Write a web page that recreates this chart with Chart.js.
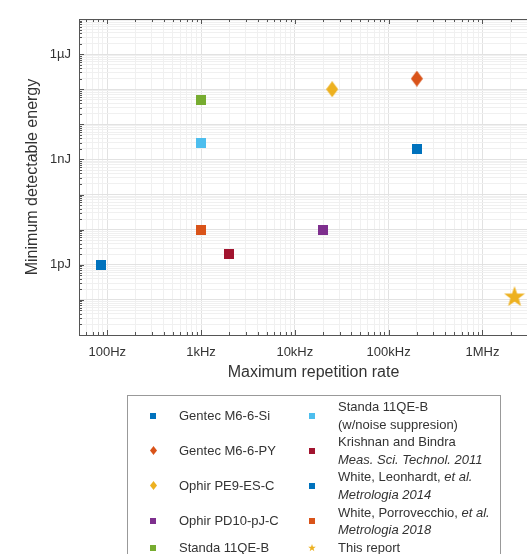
<!DOCTYPE html>
<html lang="en">
<head>
<meta charset="UTF-8">
<title>Minimum detectable energy vs repetition rate</title>
<script src="https://cdn.jsdelivr.net/npm/chart.js"></script>
<style>
  html, body { margin: 0; padding: 0; background: #fff; overflow: hidden; }
  body { width: 527px; height: 554px; position: relative; font-family: "Liberation Sans", Arial, sans-serif; }
  #wrap { position: absolute; left: 0; top: 0; width: 560px; height: 382px; }
  #legend {
    position: absolute; left: 127px; top: 395px; width: 372px; height: 180px;
    border: 1px solid #999; background: #fff; color: #333; font-size: 13px;
  }
  .item { position: absolute; display: flex; align-items: center; white-space: nowrap; }
  .item .mk { width: 26px; display: flex; justify-content: center; align-items: center; }
  .item .txt { margin-left: 13px; line-height: 17.6px; }
</style>
</head>
<body>
<div id="wrap"><canvas id="chart" width="560" height="382"></canvas></div>
<div id="legend"></div>

<script>
// series (order as in the legend)
const seriesNames = [
  'Gentec M6-6-Si',
  'Gentec M6-6-PY',
  'Ophir PE9-ES-C',
  'Ophir PD10-pJ-C',
  'Standa 11QE-B',
  'Standa 11QE-B<br>(w/noise suppresion)',
  'Krishnan and Bindra<br><i>Meas. Sci. Technol. 2011</i>',
  'White, Leonhardt, <i>et al.</i><br><i>Metrologia 2014</i>',
  'White, Porrovecchio, <i>et al.</i><br><i>Metrologia 2018</i>',
  'This report'
];
const seriesColors = ['#0072BD', '#D95319', '#EDB120', '#7E2F8E', '#77AC30',
                      '#4DBEEE', '#A2142F', '#0072BD', '#D95319', '#EDB120'];
const seriesMarkers = ['square', 'diamond', 'diamond', 'square', 'square',
                       'square', 'square', 'square', 'square', 'star'];

// values
const repRateHz  = [2e5, 2e5, 2.5e4, 2e4, 1e3, 1e3, 2e3, 85, 1e3, 2.2e6];
const minEnergyJ = [2e-9, 2e-7, 1e-7, 1e-11, 5e-8, 3e-9, 2e-12, 1e-12, 1e-11, 1.2e-13];

// axes
const xLimits = [50, 5e6];
const yLimits = [1e-14, 1e-5];
const xTickValues = [1e2, 1e3, 1e4, 1e5, 1e6];
const xTickLabels = ['100Hz', '1kHz', '10kHz', '100kHz', '1MHz'];
const yTickValues = [1e-12, 1e-9, 1e-6];
const yTickLabels = ['1pJ', '1nJ', '1\u00B5J'];

const axisColor = '#555';
const majorGrid = '#e2e2e2';
const minorGrid = '#f0f0f0';
const textColor = '#333';

function isDecade(v) {
  const l = Math.log10(v);
  return Math.abs(l - Math.round(l)) < 1e-6;
}

// all 1..9 x 10^n values inside the limits (for grid lines)
function logTicks(lim) {
  const out = [];
  for (let e = Math.floor(Math.log10(lim[0])); e <= Math.ceil(Math.log10(lim[1])); e++) {
    for (let m = 1; m <= 9; m++) {
      const v = m * Math.pow(10, e);
      if (v >= lim[0] * (1 - 1e-9) && v <= lim[1] * (1 + 1e-9)) out.push({ value: v });
    }
  }
  return out;
}

function labelFor(v, vals, labels) {
  for (let i = 0; i < vals.length; i++) {
    if (Math.abs(v / vals[i] - 1) < 1e-6) return labels[i];
  }
  return '';
}

function markerCanvas(shape, color, w, h) {
  const c = document.createElement('canvas');
  c.width = w;
  c.height = h;
  const g = c.getContext('2d');
  g.fillStyle = color;
  g.beginPath();
  if (shape === 'square') {
    g.rect(0, 0, w, h);
  } else if (shape === 'diamond') {
    g.moveTo(w / 2, 0);
    g.lineTo(w, h / 2);
    g.lineTo(w / 2, h);
    g.lineTo(0, h / 2);
    g.closePath();
  } else {
    const R = w / 2, r = R * 0.4, cx = w / 2, cy = h / 2;
    for (let k = 0; k < 10; k++) {
      const a = -Math.PI / 2 + k * Math.PI / 5;
      const rr = k % 2 ? r : R;
      const px = cx + rr * Math.cos(a), py = cy + rr * Math.sin(a);
      if (k === 0) g.moveTo(px, py); else g.lineTo(px, py);
    }
    g.closePath();
  }
  g.fill();
  return c;
}

function plotMarker(i) {
  const s = seriesMarkers[i];
  if (s === 'square') return markerCanvas(s, seriesColors[i], 10, 10);
  if (s === 'diamond') return markerCanvas(s, seriesColors[i], 12, 16);
  return markerCanvas(s, seriesColors[i], 22, 22);
}

function legendMarker(i) {
  const s = seriesMarkers[i];
  if (s === 'square') return markerCanvas(s, seriesColors[i], 6, 6);
  if (s === 'diamond') return markerCanvas(s, seriesColors[i], 7, 9);
  return markerCanvas(s, seriesColors[i], 8, 8);
}

const datasets = seriesNames.map((name, i) => ({
  label: name,
  data: [{ x: repRateHz[i], y: minEnergyJ[i] }],
  pointStyle: plotMarker(i),
  backgroundColor: seriesColors[i],
  borderColor: seriesColors[i]
}));

// box on the top/right and inward tick marks, like the original
const boxTicks = {
  id: 'boxTicks',
  afterDraw(chart) {
    const { ctx, chartArea: a, scales } = chart;
    ctx.save();
    ctx.strokeStyle = axisColor;
    ctx.lineWidth = 1;
    ctx.beginPath();
    ctx.moveTo(a.left, Math.round(a.top) + 0.5);
    ctx.lineTo(a.right, Math.round(a.top) + 0.5);
    ctx.moveTo(Math.round(a.right) - 0.5, a.top);
    ctx.lineTo(Math.round(a.right) - 0.5, a.bottom);
    scales.x.ticks.forEach(t => {
      const px = Math.round(scales.x.getPixelForValue(t.value)) + 0.5;
      const len = isDecade(t.value) ? 5 : 3;
      ctx.moveTo(px, a.bottom);
      ctx.lineTo(px, a.bottom - len);
      ctx.moveTo(px, a.top);
      ctx.lineTo(px, a.top + len);
    });
    scales.y.ticks.forEach(t => {
      const py = Math.round(scales.y.getPixelForValue(t.value)) + 0.5;
      const len = isDecade(t.value) ? 5 : 3;
      ctx.moveTo(a.left, py);
      ctx.lineTo(a.left + len, py);
      ctx.moveTo(a.right, py);
      ctx.lineTo(a.right - len, py);
    });
    ctx.stroke();
    ctx.restore();
  }
};

Chart.defaults.font.family = '"Liberation Sans", Arial, sans-serif';
Chart.defaults.color = textColor;

new Chart(document.getElementById('chart'), {
  type: 'scatter',
  data: { datasets: datasets },
  options: {
    responsive: false,
    animation: false,
    events: [],
    layout: { padding: { top: 19, right: 12, left: 0, bottom: 0 } },
    plugins: { legend: { display: false }, tooltip: { enabled: false } },
    scales: {
      x: {
        type: 'logarithmic',
        min: xLimits[0],
        max: xLimits[1],
        afterBuildTicks: scale => { scale.ticks = logTicks(xLimits); },
        afterFit: scale => { scale.height = 47; },
        grid: {
          drawTicks: false,
          color: c => (c.tick && isDecade(c.tick.value)) ? majorGrid : minorGrid
        },
        border: { display: true, color: axisColor, width: 1 },
        ticks: {
          autoSkip: false,
          maxRotation: 0,
          padding: 10,
          font: { size: 13 },
          callback: v => labelFor(v, xTickValues, xTickLabels)
        },
        title: {
          display: true,
          text: 'Maximum repetition rate',
          font: { size: 16 },
          padding: { top: 0, bottom: 0 }
        }
      },
      y: {
        type: 'logarithmic',
        min: yLimits[0],
        max: yLimits[1],
        afterBuildTicks: scale => { scale.ticks = logTicks(yLimits); },
        afterFit: scale => { scale.width = 79; },
        grid: {
          drawTicks: false,
          color: c => (c.tick && isDecade(c.tick.value)) ? majorGrid : minorGrid
        },
        border: { display: true, color: axisColor, width: 1 },
        ticks: {
          autoSkip: false,
          padding: 8,
          font: { size: 13 },
          callback: v => labelFor(v, yTickValues, yTickLabels)
        },
        title: {
          display: true,
          text: 'Minimum detectable energy',
          font: { size: 16 },
          padding: { top: 23, bottom: 0 }
        }
      }
    }
  },
  plugins: [boxTicks]
});

// legend: two columns of five, built from the same arrays
const legend = document.getElementById('legend');
seriesNames.forEach((name, i) => {
  const col = Math.floor(i / 5);
  const row = i % 5;
  const item = document.createElement('div');
  item.className = 'item';
  item.style.left = (col ? 171 : 12) + 'px';
  item.style.top = (2 + row * 35.2) + 'px';
  item.style.height = (row < 4 ? 35.2 : 17.6) + 'px';
  const mk = document.createElement('div');
  mk.className = 'mk';
  mk.appendChild(legendMarker(i));
  const txt = document.createElement('div');
  txt.className = 'txt';
  txt.innerHTML = name;
  item.appendChild(mk);
  item.appendChild(txt);
  legend.appendChild(item);
});
</script>
</body>
</html>
